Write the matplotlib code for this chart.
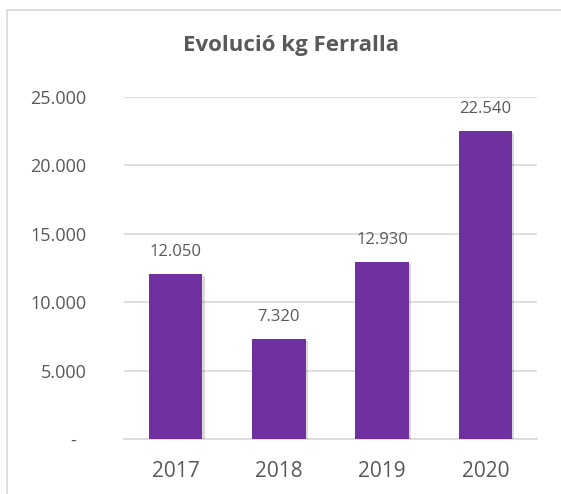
import matplotlib
matplotlib.use("Agg")
import matplotlib.pyplot as plt
from matplotlib.lines import Line2D
import matplotlib.patheffects as pe

years = ["2017", "2018", "2019", "2020"]
kg = [12050, 7320, 12930, 22540]
yticks = [0, 5000, 10000, 15000, 20000, 25000]
ytick_labels = ["-  ", "5.000", "10.000", "15.000", "20.000", "25.000"]
title = "Evolució kg Ferralla"

plt.rcParams['font.family'] = ['Open Sans', 'DejaVu Sans']
W, H = 561, 494
fig = plt.figure(figsize=(W/100, H/100), dpi=100)
fig.patch.set_facecolor('white')

L, R, T, B = 124, 537, 97, 439
ax = fig.add_axes([L/W, 1-B/H, (R-L)/W, (B-T)/H])
grey = '#d9d9d9'
text_c = '#595959'

x = range(len(years))
bars = ax.bar(x, kg, width=0.52, color='#7030A0', zorder=3)
for b in bars:
    b.set_path_effects([pe.SimplePatchShadow(offset=(1.5, -1.5), shadow_rgbFace='#000000', alpha=0.15), pe.Normal()])

ax.set_ylim(0, 25000)
ax.set_xlim(-0.5, 3.5)
ax.set_yticks(yticks)
ax.set_yticklabels(ytick_labels)
ax.set_xticks(list(x))
ax.set_xticklabels(years)
ax.tick_params(axis='y', length=0, pad=27, labelsize=13, labelcolor=text_c)
ax.tick_params(axis='x', length=0, pad=16, labelsize=15, labelcolor=text_c)
ax.yaxis.grid(True, color=grey, lw=1.2, zorder=0)
for s in ['top', 'right', 'left']:
    ax.spines[s].set_visible(False)
ax.spines['bottom'].set_color(grey)
ax.spines['bottom'].set_linewidth(1.2)

for xi, v in zip(x, kg):
    ax.annotate(f"{v:,}".replace(",", "."), (xi, v), xytext=(0, 10), textcoords='offset points',
                ha='center', va='bottom', fontsize=12, color=text_c)

fig.text(291/W, 1-46/H, title, ha='center', va='center',
         fontsize=16, fontweight='bold', color=text_c)

fig.add_artist(Line2D([7/W, 1.0], [1-10/H, 1-10/H], transform=fig.transFigure, color=grey, lw=1.2))
fig.add_artist(Line2D([7/W, 7/W], [0, 1-10/H], transform=fig.transFigure, color=grey, lw=1.2))

fig.savefig("out.png", dpi=100)
